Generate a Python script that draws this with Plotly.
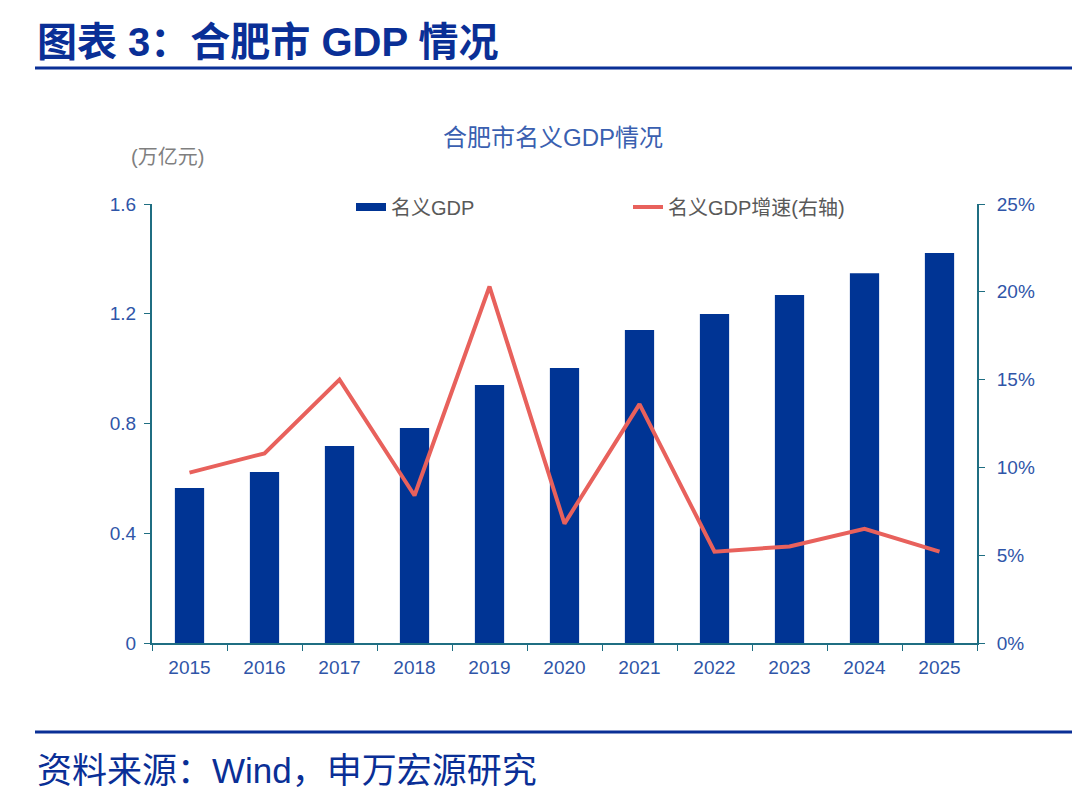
import plotly.graph_objects as go

years = ["2015", "2016", "2017", "2018", "2019", "2020", "2021", "2022", "2023", "2024", "2025"]
gdp = [0.565, 0.623, 0.718, 0.784, 0.940, 1.002, 1.141, 1.199, 1.268, 1.348, 1.421]
growth = [0.097, 0.108, 0.150, 0.084, 0.203, 0.068, 0.136, 0.052, 0.055, 0.065, 0.052]

FONT = "Liberation Sans, Arial, Noto Sans CJK SC"
DARK_BLUE = "#0a2f96"
TICK_BLUE = "#2f55a8"
AXIS = "#1f6e82"
BAR = "#003494"

# page body has an 8px margin, so the figure is drawn 8px smaller and offset
W, H = 1072, 803
L, T, R, B = 144, 196, 103, 168
PW, PH = W - L - R, H - T - B


def px(x):
    return (x - 8 - L) / PW


def py(y):
    return 1 - (y - 8 - T) / PH


fig = go.Figure()
fig.add_trace(go.Bar(
    x=years, y=gdp, name="名义GDP", showlegend=False,
    marker=dict(color=BAR, line=dict(width=0)),
))
# legend-only entry so the bar key is drawn as a wide band
fig.add_trace(go.Scatter(
    x=[None], y=[None], name="名义GDP", mode="lines",
    line=dict(color=BAR, width=8), hoverinfo="skip",
))
fig.add_trace(go.Scatter(
    x=years, y=growth, name="名义GDP增速(右轴)", yaxis="y2",
    mode="lines", line=dict(color="#e8615c", width=4),
))

fig.update_layout(
    width=W, height=H,
    paper_bgcolor="white", plot_bgcolor="white",
    margin=dict(l=L, t=T, r=R, b=B),
    font=dict(family=FONT, size=19, color=TICK_BLUE),
    bargap=0.61,
    showlegend=True,
    legend=dict(
        orientation="h", x=px(351), xanchor="left", y=py(207), yanchor="middle",
        font=dict(size=20, color="#595959"),
        entrywidth=232, entrywidthmode="pixels",
        bgcolor="rgba(0,0,0,0)",
    ),
    xaxis=dict(
        type="category", showline=True, linecolor=AXIS, linewidth=2,
        ticks="outside", tickson="boundaries", ticklen=6, tickcolor=AXIS,
        tickfont=dict(size=19, color=TICK_BLUE), showgrid=False,
        ticklabelstandoff=6,
    ),
    yaxis=dict(
        range=[0, 1.6], dtick=0.4, showline=True, linecolor=AXIS, linewidth=2,
        ticks="outside", ticklen=6, tickcolor=AXIS, showgrid=False, zeroline=False,
        tickfont=dict(size=19, color=TICK_BLUE), ticklabelstandoff=4,
    ),
    yaxis2=dict(
        overlaying="y", side="right", range=[0, 0.25], dtick=0.05, tickformat=".0%",
        showline=True, linecolor=AXIS, linewidth=2,
        ticks="outside", ticklen=6, tickcolor=AXIS, showgrid=False, zeroline=False,
        tickfont=dict(size=19, color=TICK_BLUE), ticklabelstandoff=8,
    ),
    shapes=[
        dict(type="line", xref="paper", yref="paper", x0=px(35), x1=px(1072),
             y0=py(68), y1=py(68), line=dict(color=DARK_BLUE, width=3)),
        dict(type="line", xref="paper", yref="paper", x0=px(35), x1=px(1072),
             y0=py(732), y1=py(732), line=dict(color=DARK_BLUE, width=3)),
    ],
    annotations=[
        dict(text="<b>图表 3：合肥市 GDP 情况</b>", xref="paper", yref="paper",
             x=px(35), y=py(42), xanchor="left", yanchor="middle",
             showarrow=False, font=dict(size=40, color=DARK_BLUE, family=FONT)),
        dict(text="合肥市名义GDP情况", xref="paper", yref="paper",
             x=px(553), y=py(137), xanchor="center", yanchor="middle",
             showarrow=False, font=dict(size=24, color="#3a5fb0")),
        dict(text="(万亿元)", xref="paper", yref="paper",
             x=px(129), y=py(157), xanchor="left", yanchor="middle",
             showarrow=False, font=dict(size=20, color="#7f7f7f")),
        dict(text="资料来源：Wind，申万宏源研究", xref="paper", yref="paper",
             x=px(35), y=py(770), xanchor="left", yanchor="middle",
             showarrow=False, font=dict(size=35, color=DARK_BLUE)),
    ],
)

fig.write_html("out.html")
